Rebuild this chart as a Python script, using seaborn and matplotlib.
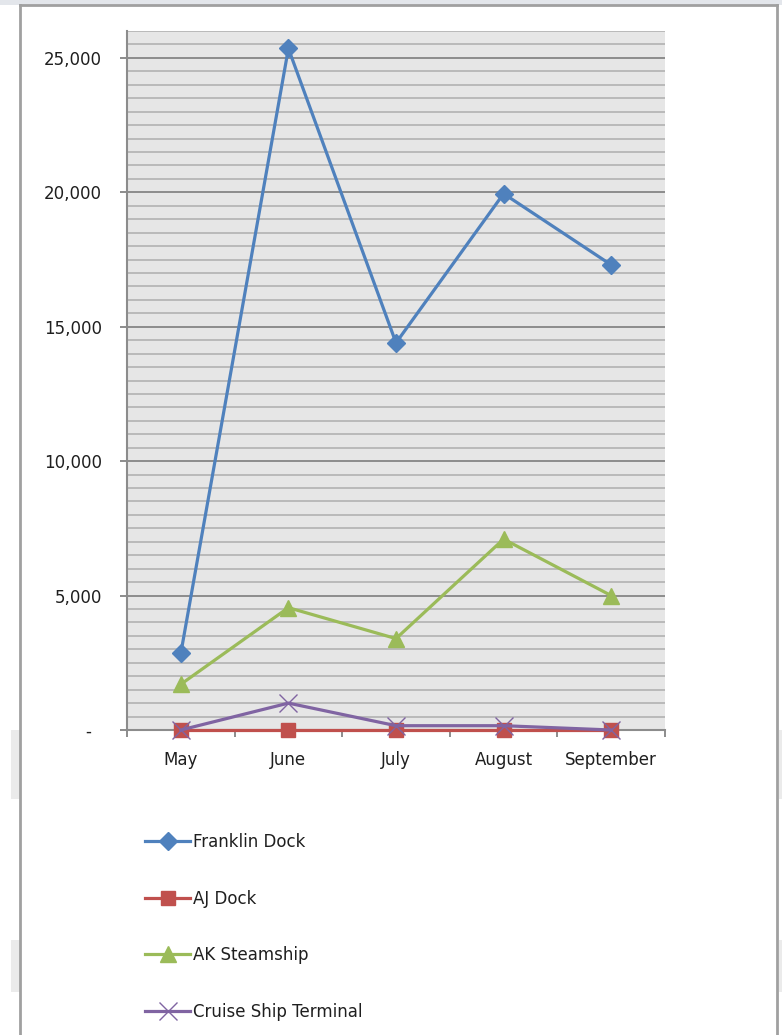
import matplotlib
matplotlib.use("Agg")
import matplotlib.pyplot as plt
from matplotlib.patches import Rectangle
from matplotlib.ticker import FixedLocator, MultipleLocator, FuncFormatter
import seaborn as sns
import pandas as pd

# Monthly passenger counts by dock
months = ["May", "June", "July", "August", "September"]
franklin_dock = [2850, 25350, 14400, 19950, 17300]
aj_dock = [0, 0, 0, 0, 0]
ak_steamship = [1700, 4550, 3400, 7100, 5000]
cruise_ship_terminal = [0, 1000, 160, 160, 0]

series_names = ["Franklin Dock", "AJ Dock", "AK Steamship", "Cruise Ship Terminal"]
series_values = [franklin_dock, aj_dock, ak_steamship, cruise_ship_terminal]
y_ticks = [0, 5000, 10000, 15000, 20000, 25000]

colors = {"Franklin Dock": "#4F81BD", "AJ Dock": "#C0504D",
          "AK Steamship": "#9BBB59", "Cruise Ship Terminal": "#8064A2"}
markers = {"Franklin Dock": "D", "AJ Dock": "s",
           "AK Steamship": "^", "Cruise Ship Terminal": "x"}
marker_sizes = {"Franklin Dock": 9, "AJ Dock": 10.5,
                "AK Steamship": 11.5, "Cruise Ship Terminal": 12.5}

df = pd.DataFrame({
    "Month": [m for _ in series_names for m in months],
    "Series": [s for s in series_names for _ in months],
    "Value": [v for vals in series_values for v in vals],
})

W, H = 782, 1035
fig = plt.figure(figsize=(W / 100, H / 100), dpi=100)
fig.patch.set_facecolor("white")
plt.rcParams["font.family"] = ["DejaVu Sans"]

# window chrome around the chart frame
fig.add_artist(Rectangle((0, 1 - 5 / H), 1, 5 / H, transform=fig.transFigure,
                         facecolor="#e3e6eb", edgecolor="none", zorder=0))
for (y0, y1) in [(730, 799), (940, 992)]:
    fig.add_artist(Rectangle((11 / W, 1 - y1 / H), 9 / W, (y1 - y0) / H,
                             transform=fig.transFigure, facecolor="#ebebeb",
                             edgecolor="none", zorder=0))
    fig.add_artist(Rectangle((779 / W, 1 - y1 / H), 3 / W, (y1 - y0) / H,
                             transform=fig.transFigure, facecolor="#ebebeb",
                             edgecolor="none", zorder=0))
frame_kw = dict(transform=fig.transFigure, color="#a0a0a0", lw=2, zorder=1)
fig.add_artist(plt.Line2D([20 / W, 20 / W], [0, 1 - 5 / H], **frame_kw))
fig.add_artist(plt.Line2D([777 / W, 777 / W], [0, 1 - 5 / H], **frame_kw))
fig.add_artist(plt.Line2D([20 / W, 777 / W], [1 - 5 / H, 1 - 5 / H], **frame_kw))

ax = fig.add_axes([127 / W, 1 - 730 / H, 538 / W, 699 / H])
ax.set_facecolor("#e6e6e6")

sns.lineplot(data=df, x="Month", y="Value", hue="Series",
             hue_order=series_names, palette=colors, sort=False,
             linewidth=2.3, legend=False, ax=ax)

for line, name in zip(ax.lines, series_names):
    c = colors[name]
    line.set_marker(markers[name])
    line.set_markersize(marker_sizes[name])
    line.set_markeredgecolor(c)
    line.set_markerfacecolor(c)
    line.set_markeredgewidth(1.0)
    line.set_clip_on(False)
    line.set_zorder(3)

ax.set_xlim(-0.5, len(months) - 0.5)
ax.set_ylim(0, 26000)
ax.set_xlabel("")
ax.set_ylabel("")

ax.yaxis.set_major_locator(FixedLocator(y_ticks))
ax.yaxis.set_minor_locator(MultipleLocator(500))
ax.yaxis.set_major_formatter(FuncFormatter(
    lambda v, p: "-  " if v == 0 else f"{v:,.0f}"))
ax.xaxis.set_minor_locator(FixedLocator([i - 0.5 for i in range(len(months) + 1)]))

ax.grid(False)
ax.grid(which="minor", axis="y", color="#b9b9b9", lw=1.4, zorder=0)
ax.grid(which="major", axis="y", color="#8c8c8c", lw=1.4, zorder=0)
ax.set_axisbelow(True)

for side in ["top", "right"]:
    ax.spines[side].set_visible(False)
for side in ["left", "bottom"]:
    ax.spines[side].set_color("#8c8c8c")
    ax.spines[side].set_linewidth(1.5)

txt = "#1f1f1f"
ax.tick_params(axis="y", which="major", length=5, width=1.4, color="#8c8c8c",
               pad=13, labelsize=12, labelcolor=txt)
ax.tick_params(axis="y", which="minor", length=0)
ax.tick_params(axis="x", which="major", length=0, pad=15, labelsize=12,
               labelcolor=txt)
ax.tick_params(axis="x", which="minor", length=5, width=1.4, color="#8c8c8c",
               direction="out")

fig.legend(handles=ax.lines, labels=series_names, loc="upper left",
           bbox_to_anchor=(145 / W, 1 - 833 / H), frameon=False,
           fontsize=12, labelcolor=txt, handlelength=2.7, handletextpad=0.2,
           labelspacing=2.32, borderpad=0, borderaxespad=0, numpoints=1)

fig.savefig("out.png", dpi=100, facecolor="white")
